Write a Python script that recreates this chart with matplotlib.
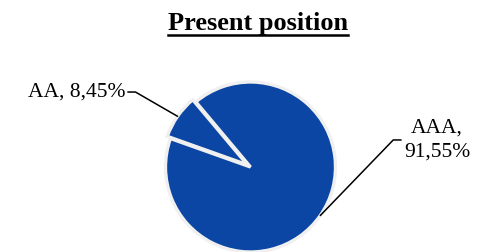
"""
Pie chart of the present rating position (AAA / AA).
"""

import numpy as np
import matplotlib
matplotlib.use("Agg")
import matplotlib.pyplot as plt
from matplotlib.lines import Line2D

# data
categories = ["AA", "AAA"]
shares = [8.45, 91.55]
label_sep = [" ", "\n"]  # AAA label wraps onto two lines
title = "Present position"

# style
pie_color = "#0c46a5"
edge_color = "#f0f0f0"
plt.rcParams["font.family"] = ["Liberation Serif", "DejaVu Serif"]

fig = plt.figure(figsize=(4.84, 2.52), dpi=100)
ax = fig.add_axes([0, 0, 1, 1])

wedges, _ = ax.pie(
    shares,
    colors=[pie_color] * len(shares),
    startangle=130,
    explode=[0.045, 0.0],
    wedgeprops=dict(edgecolor=edge_color, linewidth=2.4),
)

# crop so that the pie sits like in the original (bottom cut at the edge)
px = 85.0  # pixels per unit radius
cx, cy = 250.5, 167.0
ax.set_xlim(-cx / px, (484 - cx) / px)
ax.set_ylim(-(252 - cy) / px, cy / px)
ax.set_aspect("equal")
ax.axis("off")

# label positions (data units) and leader slope for each slice
label_pos = [(-1.476, 0.882), (2.194, 0.318)]
label_ha = ["right", "center"]
leader_angle = [-30, 46]

for w, cat, val, sep, pos, ha, ang in zip(
    wedges, categories, shares, label_sep, label_pos, label_ha, leader_angle
):
    mid = np.deg2rad((w.theta1 + w.theta2) / 2)
    xy = (w.center[0] + w.r * np.cos(mid), w.center[1] + w.r * np.sin(mid))
    txt = f"{cat},{sep}{val:.2f}%".replace(".", ",")
    ax.annotate(
        txt,
        xy=xy,
        xytext=pos,
        ha=ha,
        va="center",
        multialignment="center",
        linespacing=1.35,
        fontsize=15.5,
        color="black",
        arrowprops=dict(
            arrowstyle="-",
            connectionstyle=f"angle,angleA=0,angleB={ang},rad=0",
            color="black",
            lw=1.1,
            shrinkA=0,
            shrinkB=0,
        ),
    )

t = fig.text(258 / 484, 1 - 30 / 252, title, ha="center", va="baseline",
             fontsize=19, fontweight="bold")

# underline the title
fig.canvas.draw()
bb = t.get_window_extent().transformed(fig.transFigure.inverted())
uy = 1 - 34.5 / 252
fig.add_artist(Line2D([bb.x0, bb.x1], [uy, uy], transform=fig.transFigure,
                      color="black", lw=1.8))

fig.savefig("out.png", dpi=100)
